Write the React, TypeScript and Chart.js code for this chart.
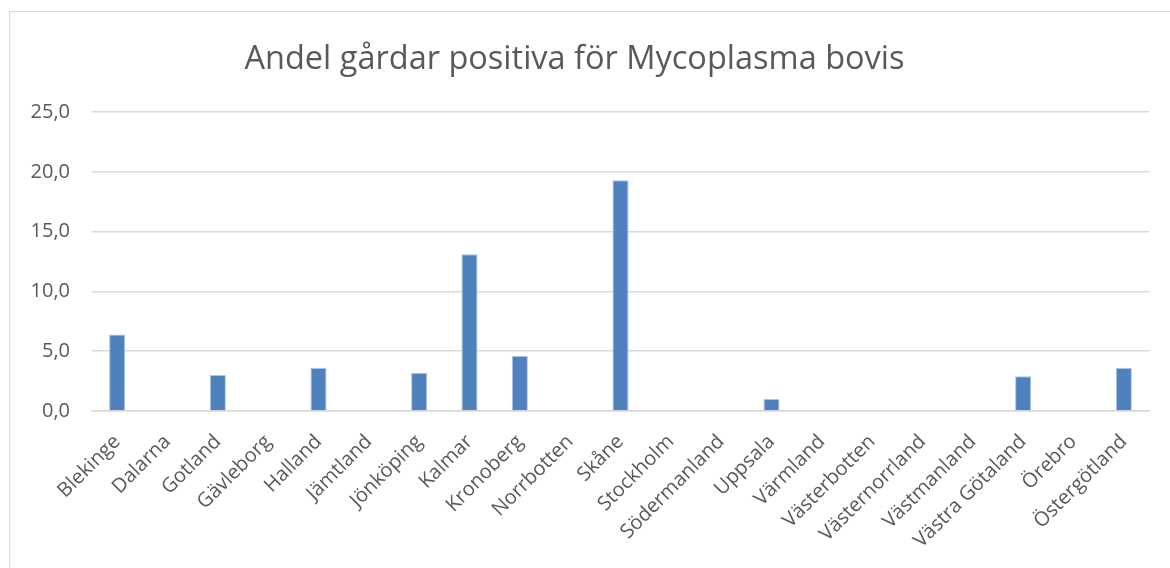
import React, { useEffect, useRef } from "react";
import { Chart, registerables } from "chart.js";

Chart.register(...registerables);

const categories = [
  "Blekinge", "Dalarna", "Gotland", "Gävleborg", "Halland", "Jämtland", "Jönköping",
  "Kalmar", "Kronoberg", "Norrbotten", "Skåne", "Stockholm", "Södermanland", "Uppsala",
  "Värmland", "Västerbotten", "Västernorrland", "Västmanland", "Västra Götaland", "Örebro", "Östergötland",
];
const values = [6.4, 0, 3.0, 0, 3.6, 0, 3.2, 13.1, 4.6, 0, 19.3, 0, 0, 1.0, 0, 0, 0, 0, 2.9, 0, 3.6];
const titleText = "Andel gårdar positiva för Mycoplasma bovis";
const yMin = 0;
const yMax = 25;
const yStep = 5;

const FONT = "'Open Sans', 'DejaVu Sans', sans-serif";
const TEXT = "#595959";
const GRID = "#d9d9d9";

export default function App() {
  const ref = useRef<HTMLCanvasElement | null>(null);
  useEffect(() => {
    if (!ref.current) return;
    const chart = new Chart(ref.current, {
      type: "bar",
      data: {
        labels: categories,
        datasets: [
          {
            data: values,
            backgroundColor: "#4F81BD",
            borderColor: "#a9c4e6",
            borderWidth: 1,
            barPercentage: 0.32,
            categoryPercentage: 1,
          },
        ],
      },
      options: {
        animation: false,
        responsive: false,
        maintainAspectRatio: false,
        layout: { padding: { left: 0, right: 21, top: 0, bottom: 0 } },
        plugins: {
          legend: { display: false },
          tooltip: { enabled: false },
          title: {
            display: true,
            text: titleText,
            color: TEXT,
            font: { family: FONT, size: 32.5, weight: "normal", lineHeight: 1.2 },
            padding: { top: 40, bottom: 33 },
          },
        },
        scales: {
          x: {
            grid: { display: false, drawTicks: false },
            border: { display: true, color: GRID, width: 1.5 },
            ticks: {
              color: TEXT,
              font: { family: FONT, size: 20 },
              maxRotation: 45,
              minRotation: 45,
              autoSkip: false,
              padding: 19,
            },
            afterFit: (s: any) => {
              s.height = 157;
            },
          },
          y: {
            min: yMin,
            max: yMax,
            grid: { color: GRID, lineWidth: 1.5, drawTicks: false },
            border: { display: false },
            ticks: {
              stepSize: yStep,
              color: TEXT,
              font: { family: FONT, size: 20 },
              padding: 22,
              callback: (v: any) => Number(v).toFixed(1).replace(".", ","),
            },
            afterFit: (s: any) => {
              s.width = 92;
            },
          },
        },
      },
    });
    return () => chart.destroy();
  }, []);
  return (
    <div style={{ position: "fixed", left: 0, top: 0, width: 1170, height: 568, background: "#fff", overflow: "hidden" }}>
      <div
        style={{
          position: "absolute",
          left: 9,
          top: 11,
          width: 1300,
          height: 700,
          border: "1.5px solid #d9d9d9",
          boxSizing: "border-box",
        }}
      />
      <canvas ref={ref} width={1170} height={568} style={{ position: "absolute", left: 0, top: 0 }} />
    </div>
  );
}
